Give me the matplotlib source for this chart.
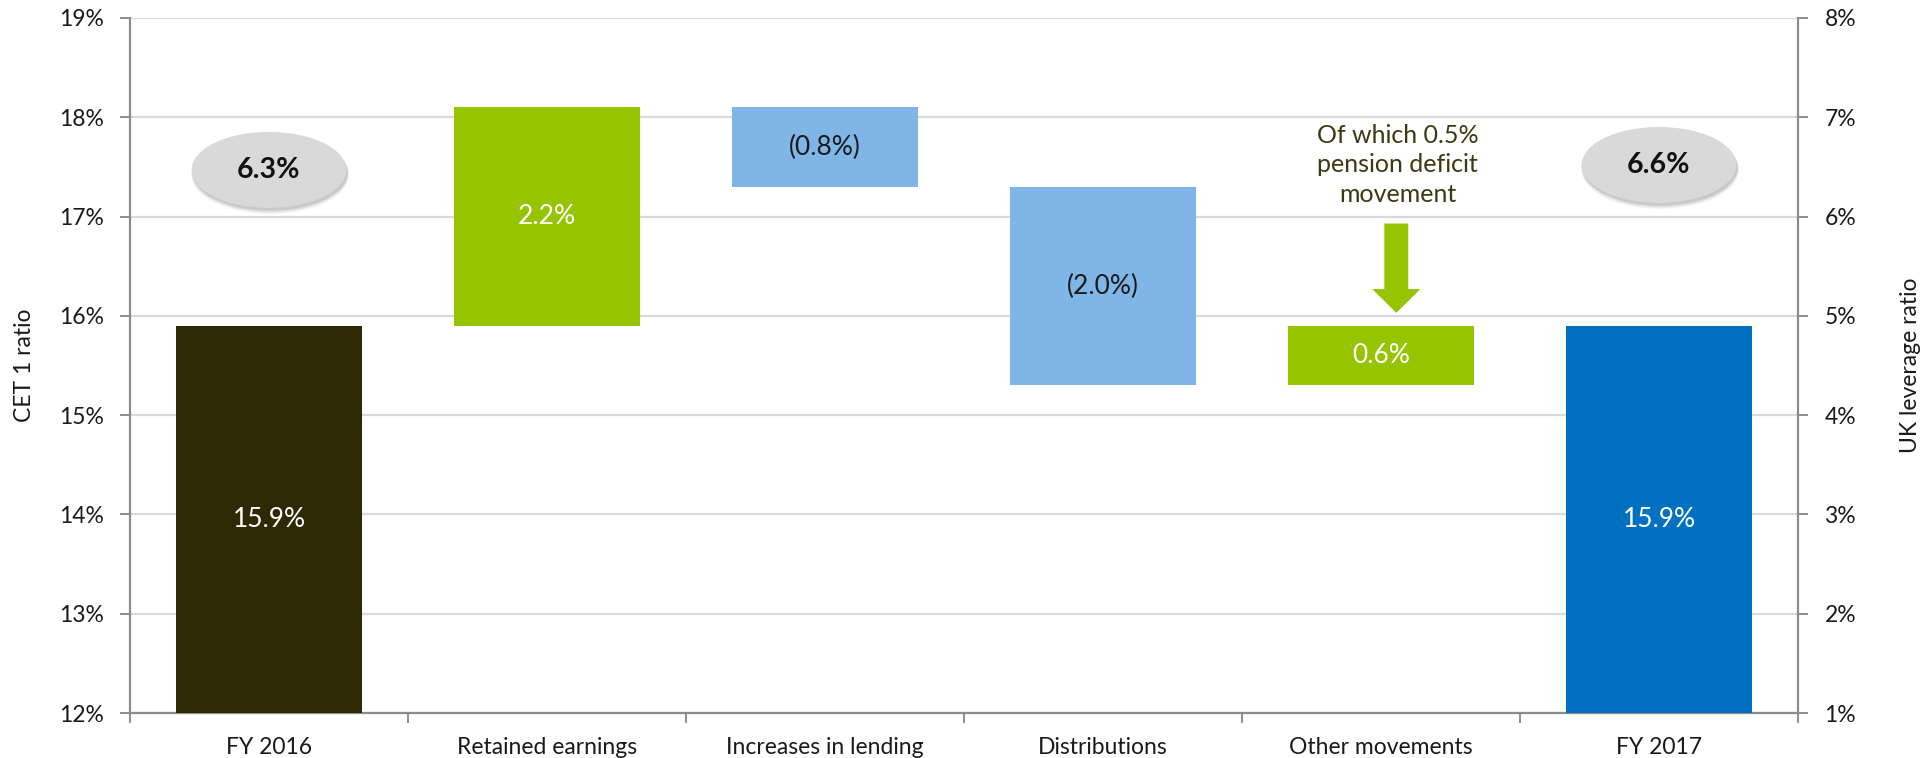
import matplotlib
matplotlib.use("Agg")
import matplotlib.pyplot as plt
from matplotlib.patches import Ellipse, FancyArrow
from matplotlib.ticker import FixedLocator, FuncFormatter

plt.rcParams['font.family'] = ['Lato', 'DejaVu Sans']

# CET1 waterfall data (percent)
categories = ["FY 2016", "Retained earnings", "Increases in lending",
              "Distributions", "Other movements", "FY 2017"]
cet1_start = 15.9
cet1_moves = [2.2, -0.8, -2.0, 0.6]
cet1_end = 15.9
leverage_start = 6.3
leverage_end = 6.6
note_text = "Of which 0.5%\npension deficit\nmovement"

c_start = "#2E2903"
c_up = "#97C400"
c_down = "#7FB6E7"
c_end = "#0070C0"
grid_c = "#D9D9D9"
spine_c = "#8C8C8C"
text_c = "#1A1A1A"

fig = plt.figure(figsize=(19.31, 7.58), dpi=100)
ax = fig.add_axes([130 / 1931, 1 - 713 / 758, (1798 - 130) / 1931, (713 - 18) / 758])

ymin, ymax = 12, 19
ax.set_ylim(ymin, ymax)
ax.set_xlim(-0.5, len(categories) - 0.5)
bw = 0.67

# bars: start, moves, end
bottoms, heights, colors, labels, lab_colors = [], [], [], [], []
bottoms.append(ymin); heights.append(cet1_start - ymin); colors.append(c_start)
labels.append(f"{cet1_start:.1f}%"); lab_colors.append("white")
level = cet1_start
for d in cet1_moves:
    lo = min(level, level + d)
    bottoms.append(lo); heights.append(abs(d))
    if d >= 0:
        colors.append(c_up); labels.append(f"{d:.1f}%"); lab_colors.append("white")
    else:
        colors.append(c_down); labels.append(f"({abs(d):.1f}%)"); lab_colors.append(text_c)
    level += d
bottoms.append(ymin); heights.append(cet1_end - ymin); colors.append(c_end)
labels.append(f"{cet1_end:.1f}%"); lab_colors.append("white")

x = list(range(len(categories)))
ax.bar(x, heights, bottom=bottoms, width=bw, color=colors, zorder=3, clip_on=False)
for xi, b, h, lab, lc in zip(x, bottoms, heights, labels, lab_colors):
    ax.text(xi, b + h / 2, lab, ha="center", va="center", color=lc,
            fontsize=19, zorder=4)

# grid and spines
ax.yaxis.set_major_locator(FixedLocator(range(ymin, ymax + 1)))
ax.yaxis.set_major_formatter(FuncFormatter(lambda v, p: f"{v:.0f}%"))
ax.grid(axis="y", color=grid_c, lw=1.6, zorder=0)
ax.set_axisbelow(True)
for s in ["top", "right"]:
    ax.spines[s].set_visible(False)
for s in ["left", "bottom"]:
    ax.spines[s].set_color(spine_c)
    ax.spines[s].set_linewidth(1.6)
ax.tick_params(axis="y", length=7, width=1.4, color=spine_c, pad=12,
               labelsize=16.5, labelcolor=text_c)

ax.set_xticks(x)
ax.set_xticklabels(categories, fontsize=16.5, color=text_c)
ax.set_xticks([i + 0.5 for i in range(-1, len(categories))], minor=True)
ax.tick_params(axis="x", which="major", length=0, pad=17)
ax.tick_params(axis="x", which="minor", length=7, width=1.4, color=spine_c)
ax.set_ylabel("CET 1 ratio", fontsize=16.5, color=text_c)
ax.yaxis.set_label_coords(-0.057, 0.5)

# right axis: UK leverage ratio
ax2 = ax.twinx()
ax2.set_ylim(1, 8)
ax2.yaxis.set_major_locator(FixedLocator(range(1, 9)))
ax2.yaxis.set_major_formatter(FuncFormatter(lambda v, p: f"{v:.0f}%"))
for s in ["top", "left", "bottom"]:
    ax2.spines[s].set_visible(False)
ax2.spines["right"].set_color(spine_c)
ax2.spines["right"].set_linewidth(1.6)
ax2.tick_params(axis="y", length=7, width=1.4, color=spine_c, pad=12,
                labelsize=16.5, labelcolor=text_c)
ax2.set_ylabel("UK leverage ratio", fontsize=16.5, color=text_c, rotation=90)
ax2.yaxis.set_label_coords(1.061, 0.5)

# leverage ratio bubbles
ew, eh = 0.557, 0.765
for xc, yc, val in [(0, 17.47, leverage_start), (5, 17.52, leverage_end)]:
    for k, a in enumerate([0.05, 0.07, 0.10]):
        off = 0.05 - 0.012 * k
        ax.add_patch(Ellipse((xc + 0.004, yc - off), ew + 0.01 - 0.004 * k,
                             eh + 0.02 - 0.008 * k, color="#000000",
                             alpha=a, lw=0, zorder=5))
    ax.add_patch(Ellipse((xc, yc), ew, eh, facecolor="#D9D9D9",
                         edgecolor="none", zorder=6))
    ax.text(xc, yc, f"{val:.1f}%", ha="center", va="center",
            fontsize=20.5, fontweight="bold", color="#111111", zorder=7)

# pension note with arrow
ax.text(4.06, 17.52, note_text, ha="center", va="center", fontsize=18,
        color="#3A3A12", linespacing=1.35, zorder=4)
ax.add_patch(FancyArrow(4.055, 16.93, 0, -(16.93 - 16.03), width=0.086,
                        head_width=0.173, head_length=0.24,
                        length_includes_head=True, color=c_up, lw=0, zorder=4))

fig.savefig("out.png", dpi=100)
